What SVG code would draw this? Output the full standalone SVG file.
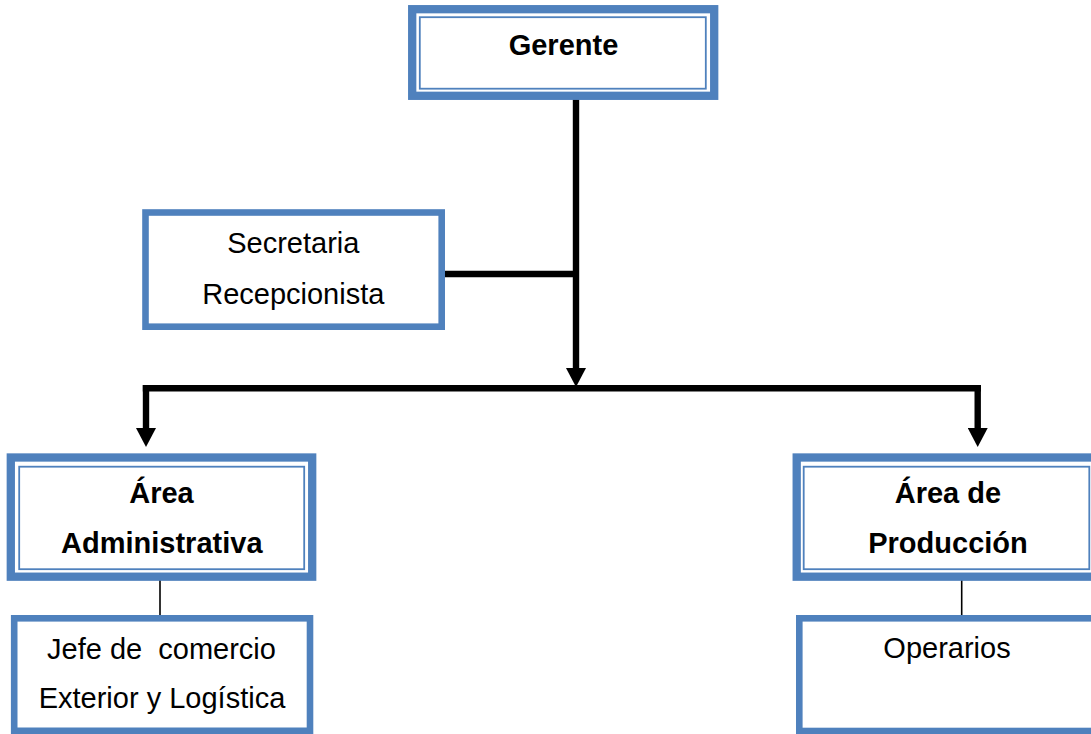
<svg xmlns="http://www.w3.org/2000/svg" width="1091" height="734" viewBox="0 0 1091 734">
  <style>
    .bg { fill: #ffffff; }
    .box-thick { fill: #ffffff; stroke: #4f81bd; stroke-width: 8.3; }
    .box-inner { fill: none; stroke: #4f81bd; stroke-width: 1.8; }
    .box { fill: #ffffff; stroke: #4f81bd; stroke-width: 6.6; }
    .lbl { font-family: "Liberation Sans", Arial, sans-serif; font-size: 29px; fill: #000000; text-anchor: middle; }
    .bold { font-weight: bold; }
    .link { fill: none; stroke: #000000; stroke-width: 6.4; stroke-linecap: butt; }
    .link-thin { fill: none; stroke: #000000; stroke-width: 1.6; }
  </style>
  <defs>
    <marker id="arrow" viewBox="0 0 19 20" refX="0" refY="10" markerWidth="19" markerHeight="20" markerUnits="userSpaceOnUse" orient="auto">
      <path d="M0,0 L19,10 L0,20 z" fill="#000000"/>
    </marker>
  </defs>

  <rect class="bg" x="0" y="0" width="1091" height="734"/>

  <!-- connectors -->
  <g id="connectors">
    <path class="link" d="M576,96 V368" marker-end="url(#arrow)"/>
    <path class="link" d="M445,274 H576"/>
    <path class="link" d="M142.8,388.3 H980.9"/>
    <path class="link" d="M146,385.1 V428" marker-end="url(#arrow)"/>
    <path class="link" d="M977.7,385.1 V428" marker-end="url(#arrow)"/>
    <path class="link-thin" d="M160,570 V618"/>
    <path class="link-thin" d="M961.7,570 V618"/>
  </g>

  <!-- Gerente -->
  <g id="gerente">
    <rect class="box-thick" x="412.2" y="9.2" width="302" height="86.6"/>
    <rect class="box-inner" x="419.8" y="17.2" width="286" height="71.5"/>
    <text class="lbl bold" x="563.5" y="55">Gerente</text>
  </g>

  <!-- Secretaria Recepcionista -->
  <g id="secretaria">
    <rect class="box" x="145.5" y="212.5" width="296.2" height="114.2"/>
    <text class="lbl" x="293.3" y="253.3">Secretaria</text>
    <text class="lbl" x="293.3" y="303.5">Recepcionista</text>
  </g>

  <!-- Área Administrativa -->
  <g id="area-administrativa">
    <rect class="box-thick" x="10.8" y="457.5" width="301.4" height="119.2"/>
    <rect class="box-inner" x="19.2" y="466.7" width="285" height="102.5"/>
    <text class="lbl bold" x="161.5" y="503.3">Área</text>
    <text class="lbl bold" x="161.8" y="553.3">Administrativa</text>
  </g>

  <!-- Área de Producción -->
  <g id="area-produccion">
    <rect class="box-thick" x="796.7" y="457.5" width="301.4" height="119.2"/>
    <rect class="box-inner" x="803.7" y="466.7" width="285.6" height="102.5"/>
    <text class="lbl bold" x="947.9" y="503.3">Área de</text>
    <text class="lbl bold" x="948" y="553.3">Producción</text>
  </g>

  <!-- Jefe de comercio Exterior y Logística -->
  <g id="jefe-comercio">
    <rect class="box" x="14.2" y="618.3" width="295.8" height="112.5"/>
    <text class="lbl" x="161.5" y="659.3" xml:space="preserve">Jefe de  comercio</text>
    <text class="lbl" x="162" y="708.3">Exterior y Logística</text>
  </g>

  <!-- Operarios -->
  <g id="operarios">
    <rect class="box" x="799.3" y="618.3" width="296" height="112.7"/>
    <text class="lbl" x="947" y="658.3">Operarios</text>
  </g>
</svg>
